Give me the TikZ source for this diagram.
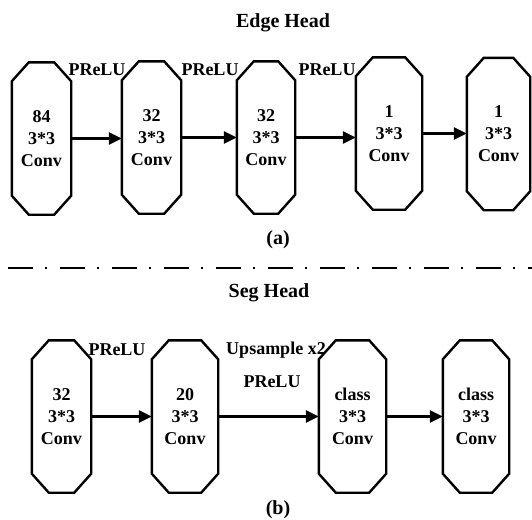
\documentclass[tikz,border=0pt]{standalone}
\usepackage{fontspec}
\setmainfont{Liberation Serif}
\usetikzlibrary{arrows.meta}
\begin{document}
\begin{tikzpicture}
[x=1pt,y=-1pt,
  convbox/.style={shape=rectangle,minimum width=#1,minimum height=152pt,inner sep=0pt,align=center,
    font=\fontsize{18}{22}\selectfont\bfseries},
  convbox/.default=60pt,
  octdecorate/.style={line width=2.4pt,line join=miter},
  arrowdecorate/.style={-{Triangle[length=13pt,width=12pt]},line width=2.4pt},
  labeldecorate/.style={font=\fontsize{18}{22}\selectfont\bfseries,inner sep=0pt},
  titledecorate/.style={font=\fontsize{20}{24}\selectfont\bfseries,inner sep=0pt},
  dividerdecorate/.style={line width=2pt,dash pattern=on 25pt off 12pt on 2pt off 13pt}]
\useasboundingbox (0,0) rectangle (532,519);
%%% edge head
% conv blocks
\node (a1) at (41.5,138.5) [convbox=59pt] {84\\3*3\\Conv};
\node (a2) at (151.5,137.5) [convbox=59pt] {32\\3*3\\Conv};
\node (a3) at (266,137.5) [convbox=58pt] {32\\3*3\\Conv};
\node (a4) at (389,133.5) [convbox=66pt] {1\\3*3\\Conv};
\node (a5) at (498.5,134) [convbox=63pt] {1\\3*3\\Conv};
% activations and title
\node (act1) at (97,70) [labeldecorate] {PReLU};
\node (act2) at (210,70) [labeldecorate] {PReLU};
\node (act3) at (327,70) [labeldecorate] {PReLU};
\node (edgetitle) at (283,23) [titledecorate] {Edge Head};
\node (capa) at (278,240) [titledecorate] {(a)};
% arrows
\path
(a1.east) edge[arrowdecorate] (a1.east -| a2.west)
(a2.east) edge[arrowdecorate] (a2.east -| a3.west)
(a3.east) edge[arrowdecorate] (a3.east -| a4.west)
(a4.east) edge[arrowdecorate] (a4.east -| a5.west);
%
%%% divider
\draw[dividerdecorate] (8,268) -- (532,268);
%
%%% seg head
% conv blocks
\node (b1) at (61.5,416.5) [convbox=59pt] {32\\3*3\\Conv};
\node (b2) at (185,416.5) [convbox=66pt] {20\\3*3\\Conv};
\node (b3) at (352.5,416.5) [convbox=67pt] {class\\3*3\\Conv};
\node (b4) at (476,416.5) [convbox=66pt] {class\\3*3\\Conv};
% activations and title
\node (act4) at (117,350) [labeldecorate] {PReLU};
\node (upx2) at (276,350) [labeldecorate] {Upsample x2};
\node (act5) at (272,382) [labeldecorate] {PReLU};
\node (segtitle) at (269,293) [titledecorate] {Seg Head};
\node (capb) at (278,510) [titledecorate] {(b)};
% arrows
\path
(b1.east) edge[arrowdecorate] (b2.west)
(b2.east) edge[arrowdecorate] (b3.west)
(b3.east) edge[arrowdecorate] (b4.west);
%
%%% octagon outlines of the conv blocks
\foreach \n in {a1,a2,a3,a4,a5,b1,b2,b3,b4}
  \draw[octdecorate] ([xshift=17pt]\n.north west) -- ([xshift=-17pt]\n.north east)
    -- ([yshift=-19pt]\n.north east) -- ([yshift=19pt]\n.south east)
    -- ([xshift=-17pt]\n.south east) -- ([xshift=17pt]\n.south west)
    -- ([yshift=19pt]\n.south west) -- ([yshift=-19pt]\n.north west) -- cycle;
\end{tikzpicture}
\end{document}
